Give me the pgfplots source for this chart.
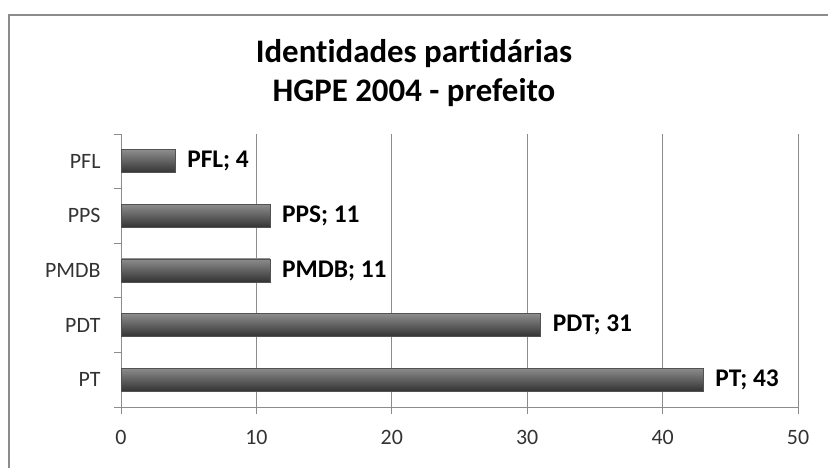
\documentclass[border=0pt]{standalone}
\usepackage{fontspec}
\setmainfont{Carlito}[Ligatures=NoCommon]
\usepackage{pgfplots}
\pgfplotsset{compat=1.18}
\newcommand{\semic}{;}
\definecolor{gridgray}{HTML}{8C8C8C}
\pgfplotsset{mybar/.style={
    xbar, bar shift=0pt, bar width=23bp, draw=black!68, line width=0.6bp,
    top color=black!45, middle color=black!60, bottom color=black!80, shading angle=0,
    nodes near coords, point meta=explicit symbolic,
    every node near coord/.append style={font=\fontsize{25.5}{28}\selectfont\bfseries, text=black, anchor=west, xshift=8.5bp}}}
\begin{document}
\begin{tikzpicture}[x=1bp,y=1bp]
\useasboundingbox (0,0) rectangle (828,468);
\fill[white] (0,0) rectangle (828,468);
\draw[gridgray, line width=2bp] (828,452.5) -- (8.5,452.5) -- (8.5,0);
\node[font=\fontsize{33}{36}\selectfont\bfseries, inner sep=0, anchor=base] at (414,405) {Identidades partidárias};
\node[font=\fontsize{33}{36}\selectfont\bfseries, inner sep=0, anchor=base] at (414,366) {HGPE 2004 - prefeito};
\begin{axis}[
  at={(121bp,61bp)}, anchor=south west,
  scale only axis, width=677bp, height=273bp,
  xmin=0, xmax=50, ymin=-0.5, ymax=4.5,
  xtick={0,10,...,50},
  ytick={0,...,4},
  yticklabels={PT,PDT,PMDB,PPS,PFL},
  extra y ticks={-0.5,0.5,1.5,2.5,3.5,4.5},
  extra y tick labels={},
  extra y tick style={ytick style={draw=gridgray, line width=0.8bp}, major tick length=7bp},
  tick align=outside,
  major tick length=7bp,
  ytick style={draw=none},
  xtick style={draw=gridgray, line width=0.8bp},
  xmajorgrids, major grid style={gridgray, line width=0.8bp},
  axis x line*=bottom, axis y line*=left,
  axis line style={gridgray, line width=0.8bp, -},
  /pgf/number format/assume math mode=true,
  tick label style={font=\fontsize{22}{26}\selectfont, text=black!80},
  xticklabel style={yshift=-13bp},
  yticklabel style={xshift=-10bp},
  clip=false,
]
\addplot[mybar] coordinates {(43,0) [PT\semic\ 43]};
\addplot[mybar] coordinates {(31,1) [PDT\semic\ 31]};
\addplot[mybar] coordinates {(11,2) [PMDB\semic\ 11]};
\addplot[mybar] coordinates {(11,3) [PPS\semic\ 11]};
\addplot[mybar] coordinates {(4,4) [PFL\semic\ 4]};
\end{axis}
\end{tikzpicture}
\end{document}
